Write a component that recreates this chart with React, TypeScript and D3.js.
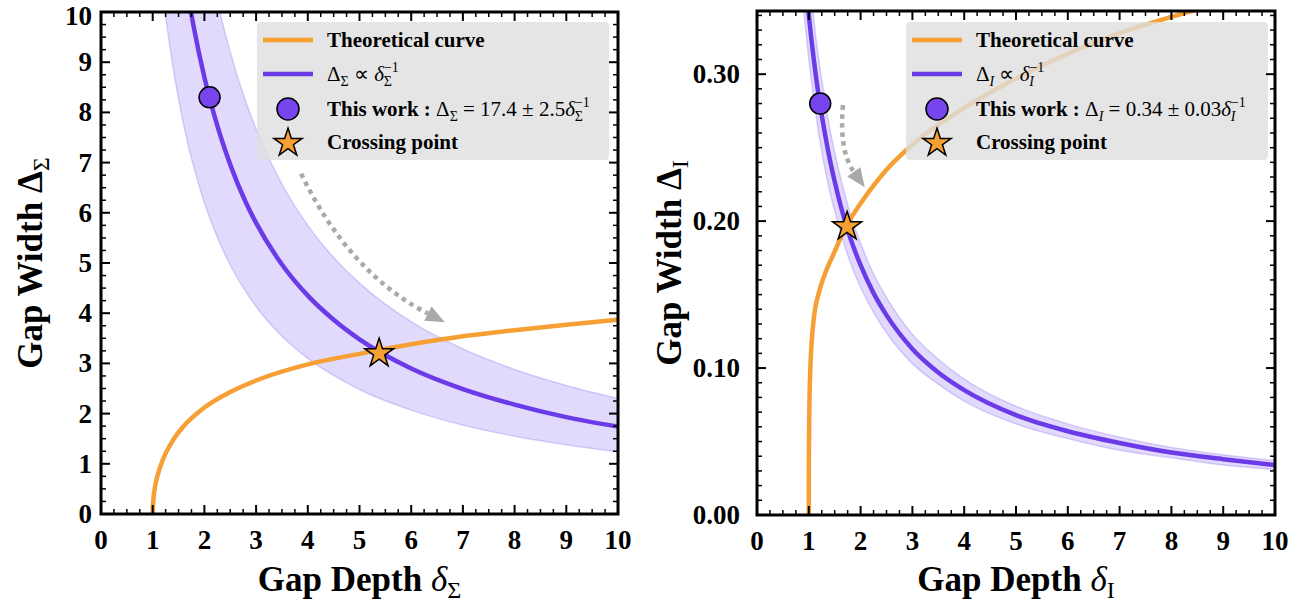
import React from "react";
import * as d3 from "d3";

const W = 1307;
const H = 607;

// ---- left panel (Sigma) ----
const depthTicks = [0, 1, 2, 3, 4, 5, 6, 7, 8, 9, 10];
const sigmaWidthTicks = [0, 1, 2, 3, 4, 5, 6, 7, 8, 9, 10];

const sigmaTheoryDepth = [1, 1.002, 1.01, 1.03, 1.06, 1.1, 1.2, 1.4, 1.6, 2, 2.5, 3, 4, 5, 6, 7, 8, 9, 10];
const sigmaTheoryWidth = [0, 0.11, 0.25, 0.44, 0.62, 0.79, 1.09, 1.48, 1.75, 2.12, 2.43, 2.66, 2.98, 3.19, 3.38, 3.54, 3.66, 3.77, 3.87];

const sigmaFitDepth = [1.1, 1.2, 1.3, 1.4, 1.5, 1.6, 1.7, 1.8, 2, 2.2, 2.5, 2.8, 3, 3.5, 4, 4.5, 5, 6, 7, 8, 9, 10];
const sigmaFitWidth = [15.82, 14.5, 13.38, 12.43, 11.6, 10.88, 10.24, 9.67, 8.7, 7.91, 6.96, 6.21, 5.8, 4.97, 4.35, 3.87, 3.48, 2.9, 2.49, 2.18, 1.93, 1.74];
const sigmaBandHigh = [20.9, 19.17, 17.69, 16.43, 15.33, 14.38, 13.53, 12.78, 11.5, 10.45, 9.2, 8.21, 7.67, 6.57, 5.75, 5.11, 4.6, 3.83, 3.29, 2.88, 2.56, 2.3];
const sigmaBandLow = [11.27, 10.33, 9.54, 8.86, 8.27, 7.75, 7.29, 6.89, 6.2, 5.64, 4.96, 4.43, 4.13, 3.54, 3.1, 2.76, 2.48, 2.07, 1.77, 1.55, 1.38, 1.24];

const sigmaThisWork = [2.1, 8.3];
const sigmaCrossing = [5.38, 3.22];
const sigmaArrow = [[3.87, 6.78], [4.8, 4.8], [6.65, 3.82]];

// ---- right panel (I) ----
const iotaWidthTicks = [0, 0.1, 0.2, 0.3];

const iotaTheoryDepth = [1, 1.002, 1.01, 1.03, 1.06, 1.1, 1.2, 1.3, 1.47, 1.73, 2, 2.5, 3, 4, 5, 6, 7, 8, 8.6];
const iotaTheoryWidth = [0, 0.04, 0.07, 0.1, 0.12, 0.135, 0.152, 0.163, 0.177, 0.197, 0.212, 0.235, 0.252, 0.277, 0.297, 0.314, 0.328, 0.339, 0.345];

const iotaFitDepth = [0.9, 1, 1.1, 1.2, 1.3, 1.4, 1.5, 1.75, 2, 2.25, 2.5, 3, 3.5, 4, 5, 6, 7, 8, 9, 10];
const iotaFitWidth = [0.378, 0.34, 0.309, 0.283, 0.262, 0.243, 0.227, 0.194, 0.17, 0.151, 0.136, 0.113, 0.097, 0.085, 0.068, 0.057, 0.049, 0.0425, 0.038, 0.034];
const iotaBandHigh = [0.411, 0.37, 0.336, 0.308, 0.285, 0.264, 0.247, 0.211, 0.185, 0.164, 0.148, 0.123, 0.106, 0.0925, 0.074, 0.062, 0.053, 0.046, 0.041, 0.037];
const iotaBandLow = [0.344, 0.31, 0.282, 0.258, 0.238, 0.221, 0.207, 0.177, 0.155, 0.138, 0.124, 0.103, 0.089, 0.0775, 0.062, 0.052, 0.044, 0.039, 0.034, 0.031];

const iotaThisWork = [1.22, 0.28];
const iotaCrossing = [1.74, 0.197];
const iotaArrow = [[1.66, 0.279], [1.58, 0.248], [2.08, 0.223]];

const ORANGE = "#f59f35";
const PURPLE = "#6c3be8";
const DOT = "#7744ee";
const SERIF = "'Liberation Serif', 'Times New Roman', serif";

const starPath = d3.symbol(d3.symbolStar, 260)() as string;
const legendStar = d3.symbol(d3.symbolStar, 250)() as string;

function Arrow({ pts, x, y }) {
  const [s, c, e] = pts.map(([a, b]) => [x(a), y(b)]);
  const dx = e[0] - c[0];
  const dy = e[1] - c[1];
  const len = Math.hypot(dx, dy);
  const ux = dx / len, uy = dy / len;
  const head = 19, half = 8;
  const bx = e[0] - ux * head, by = e[1] - uy * head;
  return (
    <g>
      <path
        d={`M${s[0]},${s[1]} Q${c[0]},${c[1]} ${bx},${by}`}
        fill="none"
        stroke="#a9a9a9"
        strokeWidth={4.5}
        strokeDasharray="4.5 4.5"
      />
      <path
        d={`M${e[0]},${e[1]} L${bx - uy * half},${by + ux * half} L${bx + uy * half},${by - ux * half} Z`}
        fill="#a9a9a9"
      />
    </g>
  );
}

function Panel({ id, box, yDomain, yTicks, yMinorStep, yFmt, yPad, theory, fit, band, thisWork, crossing, arrow, legend, xLabel, yLabel, yLabelX }) {
  const x = d3.scaleLinear().domain([0, 10]).range([box.x0, box.x1]);
  const y = d3.scaleLinear().domain(yDomain).range([box.y1, box.y0]);

  const xMinor = d3.range(0, 10.0001, 0.25).filter((v) => Math.abs(v - Math.round(v)) > 1e-6);
  const yMinor = d3.range(0, yDomain[1], yMinorStep).filter(
    (v) => !yTicks.some((t) => Math.abs(t - v) < yMinorStep / 10)
  );

  const line = d3.line().x((d) => x(d[0])).y((d) => y(d[1])).curve(d3.curveMonotoneX);
  const area = d3
    .area()
    .x((d) => x(d[0]))
    .y0((d) => y(d[1]))
    .y1((d) => y(d[2]))
    .curve(d3.curveMonotoneX);

  const theoryPts = theory[0].map((v, i) => [v, theory[1][i]]);
  const fitPts = fit[0].map((v, i) => [v, fit[1][i]]);
  const bandPts = fit[0].map((v, i) => [v, band[1][i], band[0][i]]);
  const hiPts = fit[0].map((v, i) => [v, band[0][i]]);
  const loPts = fit[0].map((v, i) => [v, band[1][i]]);

  const maj = 9, min = 5;

  return (
    <g>
      <defs>
        <clipPath id={id}>
          <rect x={box.x0} y={box.y0} width={box.x1 - box.x0} height={box.y1 - box.y0} />
        </clipPath>
      </defs>
      <g clipPath={`url(#${id})`}>
        <path d={area(bandPts)} fill="#8b6cf2" fillOpacity={0.25} />
        <path d={line(hiPts)} fill="none" stroke="#8b6cf2" strokeOpacity={0.3} strokeWidth={1.5} />
        <path d={line(loPts)} fill="none" stroke="#8b6cf2" strokeOpacity={0.3} strokeWidth={1.5} />
        <path d={line(fitPts)} fill="none" stroke={PURPLE} strokeWidth={4.5} />
        <path d={line(theoryPts)} fill="none" stroke={ORANGE} strokeWidth={4.5} />
      </g>

      {/* legend */}
      <g>
        <rect x={legend.x} y={legend.y} width={legend.w} height={legend.h} rx={4} fill="#dedede" fillOpacity={0.8} />
        <line x1={legend.x + 6} x2={legend.x + 56} y1={legend.rows[0]} y2={legend.rows[0]} stroke={ORANGE} strokeWidth={4.5} />
        <line x1={legend.x + 6} x2={legend.x + 56} y1={legend.rows[1]} y2={legend.rows[1]} stroke={PURPLE} strokeWidth={4.5} />
        <circle cx={legend.x + 31} cy={legend.rows[2]} r={11} fill={DOT} stroke="#000" strokeWidth={1.5} />
        <path d={legendStar} transform={`translate(${legend.x + 31},${legend.rows[3] + 1})`} fill={ORANGE} stroke="#000" strokeWidth={1.5} />
        <g fontFamily={SERIF} fontSize={21}>
          <text x={legend.x + 70} y={legend.rows[0] + 7} fontWeight="bold">Theoretical curve</text>
          <text x={legend.x + 70} y={legend.rows[1] + 7}>{legend.fitLabel}</text>
          <text x={legend.x + 70} y={legend.rows[2] + 7}>
            <tspan fontWeight="bold">This work : </tspan>
            {legend.workLabel}
          </text>
          <text x={legend.x + 70} y={legend.rows[3] + 7} fontWeight="bold">Crossing point</text>
        </g>
      </g>

      <Arrow pts={arrow} x={x} y={y} />
      <circle cx={x(thisWork[0])} cy={y(thisWork[1])} r={10.5} fill={DOT} stroke="#000" strokeWidth={1.5} />
      <path d={starPath} transform={`translate(${x(crossing[0])},${y(crossing[1]) + 1})`} fill={ORANGE} stroke="#000" strokeWidth={1.5} />

      {/* ticks, inward on all sides */}
      <g stroke="#000">
        {depthTicks.map((t) => (
          <g key={"xm" + t} strokeWidth={2}>
            <line x1={x(t)} x2={x(t)} y1={box.y1} y2={box.y1 - maj} />
            <line x1={x(t)} x2={x(t)} y1={box.y0} y2={box.y0 + maj} />
          </g>
        ))}
        {xMinor.map((t) => (
          <g key={"xn" + t} strokeWidth={1.5}>
            <line x1={x(t)} x2={x(t)} y1={box.y1} y2={box.y1 - min} />
            <line x1={x(t)} x2={x(t)} y1={box.y0} y2={box.y0 + min} />
          </g>
        ))}
        {yTicks.map((t) => (
          <g key={"ym" + t} strokeWidth={2}>
            <line x1={box.x0} x2={box.x0 + maj} y1={y(t)} y2={y(t)} />
            <line x1={box.x1} x2={box.x1 - maj} y1={y(t)} y2={y(t)} />
          </g>
        ))}
        {yMinor.map((t) => (
          <g key={"yn" + t} strokeWidth={1.5}>
            <line x1={box.x0} x2={box.x0 + min} y1={y(t)} y2={y(t)} />
            <line x1={box.x1} x2={box.x1 - min} y1={y(t)} y2={y(t)} />
          </g>
        ))}
      </g>
      <rect x={box.x0} y={box.y0} width={box.x1 - box.x0} height={box.y1 - box.y0} fill="none" stroke="#000" strokeWidth={3} />

      <g fontFamily={SERIF} fontWeight="bold" fontSize={27}>
        {depthTicks.map((t) => (
          <text key={"xl" + t} x={x(t)} y={box.y1 + 35} textAnchor="middle">{t}</text>
        ))}
        {yTicks.map((t) => (
          <text key={"yl" + t} x={box.x0 - yPad} y={Math.max(y(t) + 9, 25)} textAnchor="end">{yFmt(t)}</text>
        ))}
      </g>
      <text x={(box.x0 + box.x1) / 2} y={591} textAnchor="middle" fontFamily={SERIF} fontWeight="bold" fontSize={35}>
        {xLabel}
      </text>
      <text
        transform={`translate(${yLabelX},${(box.y0 + box.y1) / 2}) rotate(-90)`}
        textAnchor="middle"
        fontFamily={SERIF}
        fontWeight="bold"
        fontSize={35}
      >
        {yLabel}
      </text>
    </g>
  );
}

export default function App() {
  const sub = 14;
  return (
    <svg width={W} height={H} style={{ position: "absolute", left: 0, top: 0, background: "#fff" }}>
      <Panel
        id="clipSigma"
        box={{ x0: 101, x1: 618, y0: 12, y1: 514 }}
        yDomain={[0, 10]}
        yTicks={sigmaWidthTicks}
        yMinorStep={0.25}
        yFmt={(v) => String(v)}
        yPad={9}
        theory={[sigmaTheoryDepth, sigmaTheoryWidth]}
        fit={[sigmaFitDepth, sigmaFitWidth]}
        band={[sigmaBandHigh, sigmaBandLow]}
        thisWork={sigmaThisWork}
        crossing={sigmaCrossing}
        arrow={sigmaArrow}
        legend={{
          x: 257, y: 22, w: 352, h: 138, rows: [40, 74, 109, 142],
          fitLabel: (
            <>
              <tspan>Δ</tspan>
              <tspan fontSize={sub} dy={5}>Σ</tspan>
              <tspan dy={-5}> ∝ </tspan>
              <tspan fontStyle="italic">δ</tspan>
              <tspan fontSize={sub} dy={-9}>−1</tspan>
              <tspan fontSize={sub} dx={-15} dy={14}>Σ</tspan>
              <tspan dy={-5}> </tspan>
            </>
          ),
          workLabel: (
            <>
              <tspan>Δ</tspan>
              <tspan fontSize={sub} dy={5}>Σ</tspan>
              <tspan dy={-5}> = 17.4 ± 2.5</tspan>
              <tspan fontStyle="italic">δ</tspan>
              <tspan fontSize={sub} dy={-9}>−1</tspan>
              <tspan fontSize={sub} dx={-15} dy={14}>Σ</tspan>
              <tspan dy={-5}> </tspan>
            </>
          ),
        }}
        xLabel={
          <>
            <tspan>Gap Depth </tspan>
            <tspan fontStyle="italic" fontWeight="normal">δ</tspan>
            <tspan fontSize={24} fontWeight="normal" dy={7}>Σ</tspan>
          </>
        }
        yLabel={
          <>
            <tspan>Gap Width Δ</tspan>
            <tspan fontSize={24} fontWeight="normal" dy={7}>Σ</tspan>
          </>
        }
        yLabelX={42}
      />
      <Panel
        id="clipIota"
        box={{ x0: 757, x1: 1275, y0: 11, y1: 515 }}
        yDomain={[0, 0.343]}
        yTicks={iotaWidthTicks}
        yMinorStep={0.01}
        yFmt={(v) => v.toFixed(2)}
        yPad={17}
        theory={[iotaTheoryDepth, iotaTheoryWidth]}
        fit={[iotaFitDepth, iotaFitWidth]}
        band={[iotaBandHigh, iotaBandLow]}
        thisWork={iotaThisWork}
        crossing={iotaCrossing}
        arrow={iotaArrow}
        legend={{
          x: 906, y: 22, w: 362, h: 138, rows: [40, 74, 109, 142],
          fitLabel: (
            <>
              <tspan>Δ</tspan>
              <tspan fontSize={sub} fontStyle="italic" dy={5}>I</tspan>
              <tspan dy={-5}> ∝ </tspan>
              <tspan fontStyle="italic">δ</tspan>
              <tspan fontSize={sub} dy={-9}>−1</tspan>
              <tspan fontSize={sub} fontStyle="italic" dx={-15} dy={14}>I</tspan>
              <tspan dy={-5}> </tspan>
            </>
          ),
          workLabel: (
            <>
              <tspan>Δ</tspan>
              <tspan fontSize={sub} fontStyle="italic" dy={5}>I</tspan>
              <tspan dy={-5}> = 0.34 ± 0.03</tspan>
              <tspan fontStyle="italic">δ</tspan>
              <tspan fontSize={sub} dy={-9}>−1</tspan>
              <tspan fontSize={sub} fontStyle="italic" dx={-15} dy={14}>I</tspan>
              <tspan dy={-5}> </tspan>
            </>
          ),
        }}
        xLabel={
          <>
            <tspan>Gap Depth </tspan>
            <tspan fontStyle="italic" fontWeight="normal">δ</tspan>
            <tspan fontSize={24} fontWeight="normal" dy={7}>I</tspan>
          </>
        }
        yLabel={
          <>
            <tspan>Gap Width Δ</tspan>
            <tspan fontSize={24} fontWeight="normal" dy={7}>I</tspan>
          </>
        }
        yLabelX={681}
      />
    </svg>
  );
}
